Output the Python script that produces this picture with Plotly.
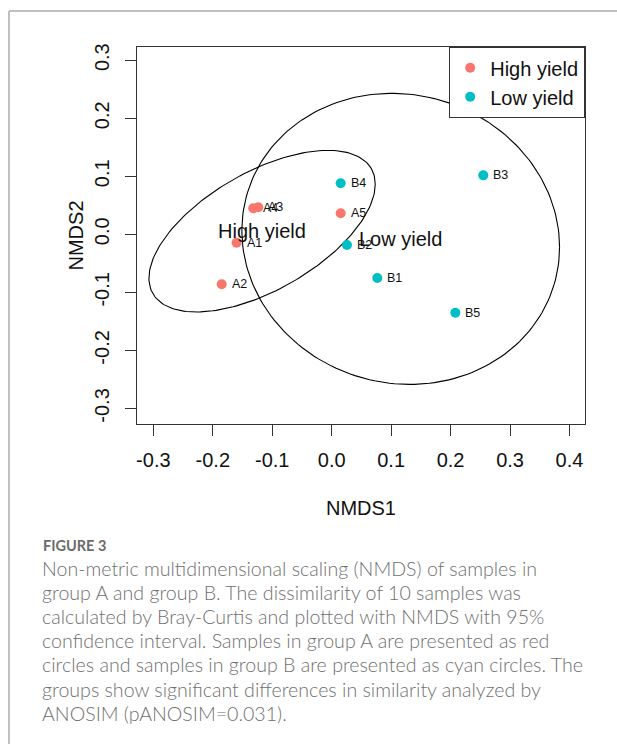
import numpy as np
import plotly.graph_objects as go

# ---- data ----
high_labels = ["A1", "A2", "A3", "A4", "A5"]
high_x = [-0.160, -0.185, -0.1235, -0.132, 0.0151]
high_y = [-0.0145, -0.086, 0.0465, 0.0448, 0.0362]

low_labels = ["B1", "B2", "B3", "B4", "B5"]
low_x = [0.0767, 0.0257, 0.255, 0.0151, 0.208]
low_y = [-0.0753, -0.0184, 0.1016, 0.0879, -0.135]

group_names = ["High yield", "Low yield"]
group_colors = ["#F8766D", "#00BFC4"]

x_ticks = [-0.3, -0.2, -0.1, 0.0, 0.1, 0.2, 0.3, 0.4]
y_ticks = [-0.3, -0.2, -0.1, 0.0, 0.1, 0.2, 0.3]

caption_title = "FIGURE 3"
caption_lines = [
    "Non-metric multidimensional scaling (NMDS) of samples in",
    "group A and group B. The dissimilarity of 10 samples was",
    "calculated by Bray-Curtis and plotted with NMDS with 95%",
    "confidence interval. Samples in group A are presented as red",
    "circles and samples in group B are presented as cyan circles. The",
    "groups show significant differences in similarity analyzed by",
    "ANOSIM (pANOSIM=0.031).",
]

# ---- layout geometry ----
W, H = 617, 744
L, R, T, B = 137, 32, 47, 320
PW, PH = W - L - R, H - T - B
FONT = "Liberation Sans, Arial, sans-serif"


def px_x(px):
    return (px - L) / PW


def px_y(py):
    return 1 - (py - T) / PH


def conf_ellipse(xs, ys, conf=0.95, n=200):
    pts = np.vstack([xs, ys])
    mu = pts.mean(axis=1)
    cov = np.cov(pts)
    scale = np.sqrt(-2 * np.log(1 - conf))  # chi-square, 2 df
    chol = np.linalg.cholesky(cov)
    t = np.linspace(0, 2 * np.pi, n)
    circ = np.vstack([np.cos(t), np.sin(t)])
    e = mu[:, None] + scale * chol @ circ
    return e[0], e[1], mu


fig = go.Figure()

groups = [
    (high_labels, high_x, high_y),
    (low_labels, low_x, low_y),
]

annotations = []
for (labels, xs, ys), name, color in zip(groups, group_names, group_colors):
    ex, ey, mu = conf_ellipse(xs, ys)
    fig.add_trace(go.Scatter(x=ex, y=ey, mode="lines",
                             line=dict(color="black", width=1.1),
                             showlegend=False, hoverinfo="skip"))
    fig.add_trace(go.Scatter(x=xs, y=ys, mode="markers", name=name,
                             marker=dict(color=color, size=10, line=dict(width=0))))
    for lab, xv, yv in zip(labels, xs, ys):
        annotations.append(dict(x=xv, y=yv, xref="x", yref="y", text=lab,
                                showarrow=False, xanchor="left", yanchor="middle",
                                xshift=8, font=dict(family=FONT, size=12.5, color="#111")))
    annotations.append(dict(x=mu[0], y=mu[1], xref="x", yref="y", text=name,
                            showarrow=False, xanchor="center", yanchor="middle",
                            font=dict(family=FONT, size=20, color="#111")))

# caption
annotations.append(dict(x=px_x(41), y=px_y(545), xref="paper", yref="paper",
                        text="<b>" + caption_title + "</b>", showarrow=False,
                        xanchor="left", yanchor="middle",
                        font=dict(family="Lato, sans-serif", size=14.5, color="#6b6b6b")))
for i, line in enumerate(caption_lines):
    annotations.append(dict(x=px_x(40), y=px_y(568 + i * 24.2), xref="paper", yref="paper",
                            text=line, showarrow=False, xanchor="left", yanchor="middle",
                            font=dict(family="Lato, sans-serif", size=19.6, color="#707070",
                                      weight=300)))

shapes = [
    dict(type="line", xref="paper", yref="paper", x0=px_x(9), x1=px_x(9),
         y0=px_y(11), y1=px_y(744), line=dict(color="#ababab", width=1.5)),
    dict(type="line", xref="paper", yref="paper", x0=px_x(9), x1=px_x(617),
         y0=px_y(11), y1=px_y(11), line=dict(color="#ababab", width=1.5)),
]

axis_common = dict(showgrid=False, zeroline=False, showline=True, mirror=True,
                   linecolor="#333", linewidth=1.2, ticks="outside", ticklen=11,
                   tickcolor="#333", tickwidth=1.2,
                   tickfont=dict(family=FONT, size=20, color="#111"))

fig.update_layout(
    width=W, height=H,
    margin=dict(l=L, r=R, t=T, b=B),
    paper_bgcolor="white", plot_bgcolor="white",
    xaxis=dict(range=[-0.3275, 0.4261], tickvals=x_ticks,
               ticktext=[f"{v:.1f}" for v in x_ticks], ticklabelstandoff=7,
               title=dict(text="NMDS1", font=dict(family=FONT, size=20, color="#111"), standoff=30),
               **axis_common),
    yaxis=dict(range=[-0.3268, 0.3227], tickvals=y_ticks,
               ticktext=[f"{v:.1f}" for v in y_ticks], tickangle=-90, ticklabelstandoff=8,
               title=dict(text="NMDS2", font=dict(family=FONT, size=20, color="#111"), standoff=1),
               **axis_common),
    legend=dict(x=1, y=1, xanchor="right", yanchor="top", bordercolor="#333", borderwidth=1.2,
                bgcolor="white", font=dict(family=FONT, size=20, color="#111")),
    annotations=annotations,
    shapes=shapes,
)

fig.write_html("out.html")
